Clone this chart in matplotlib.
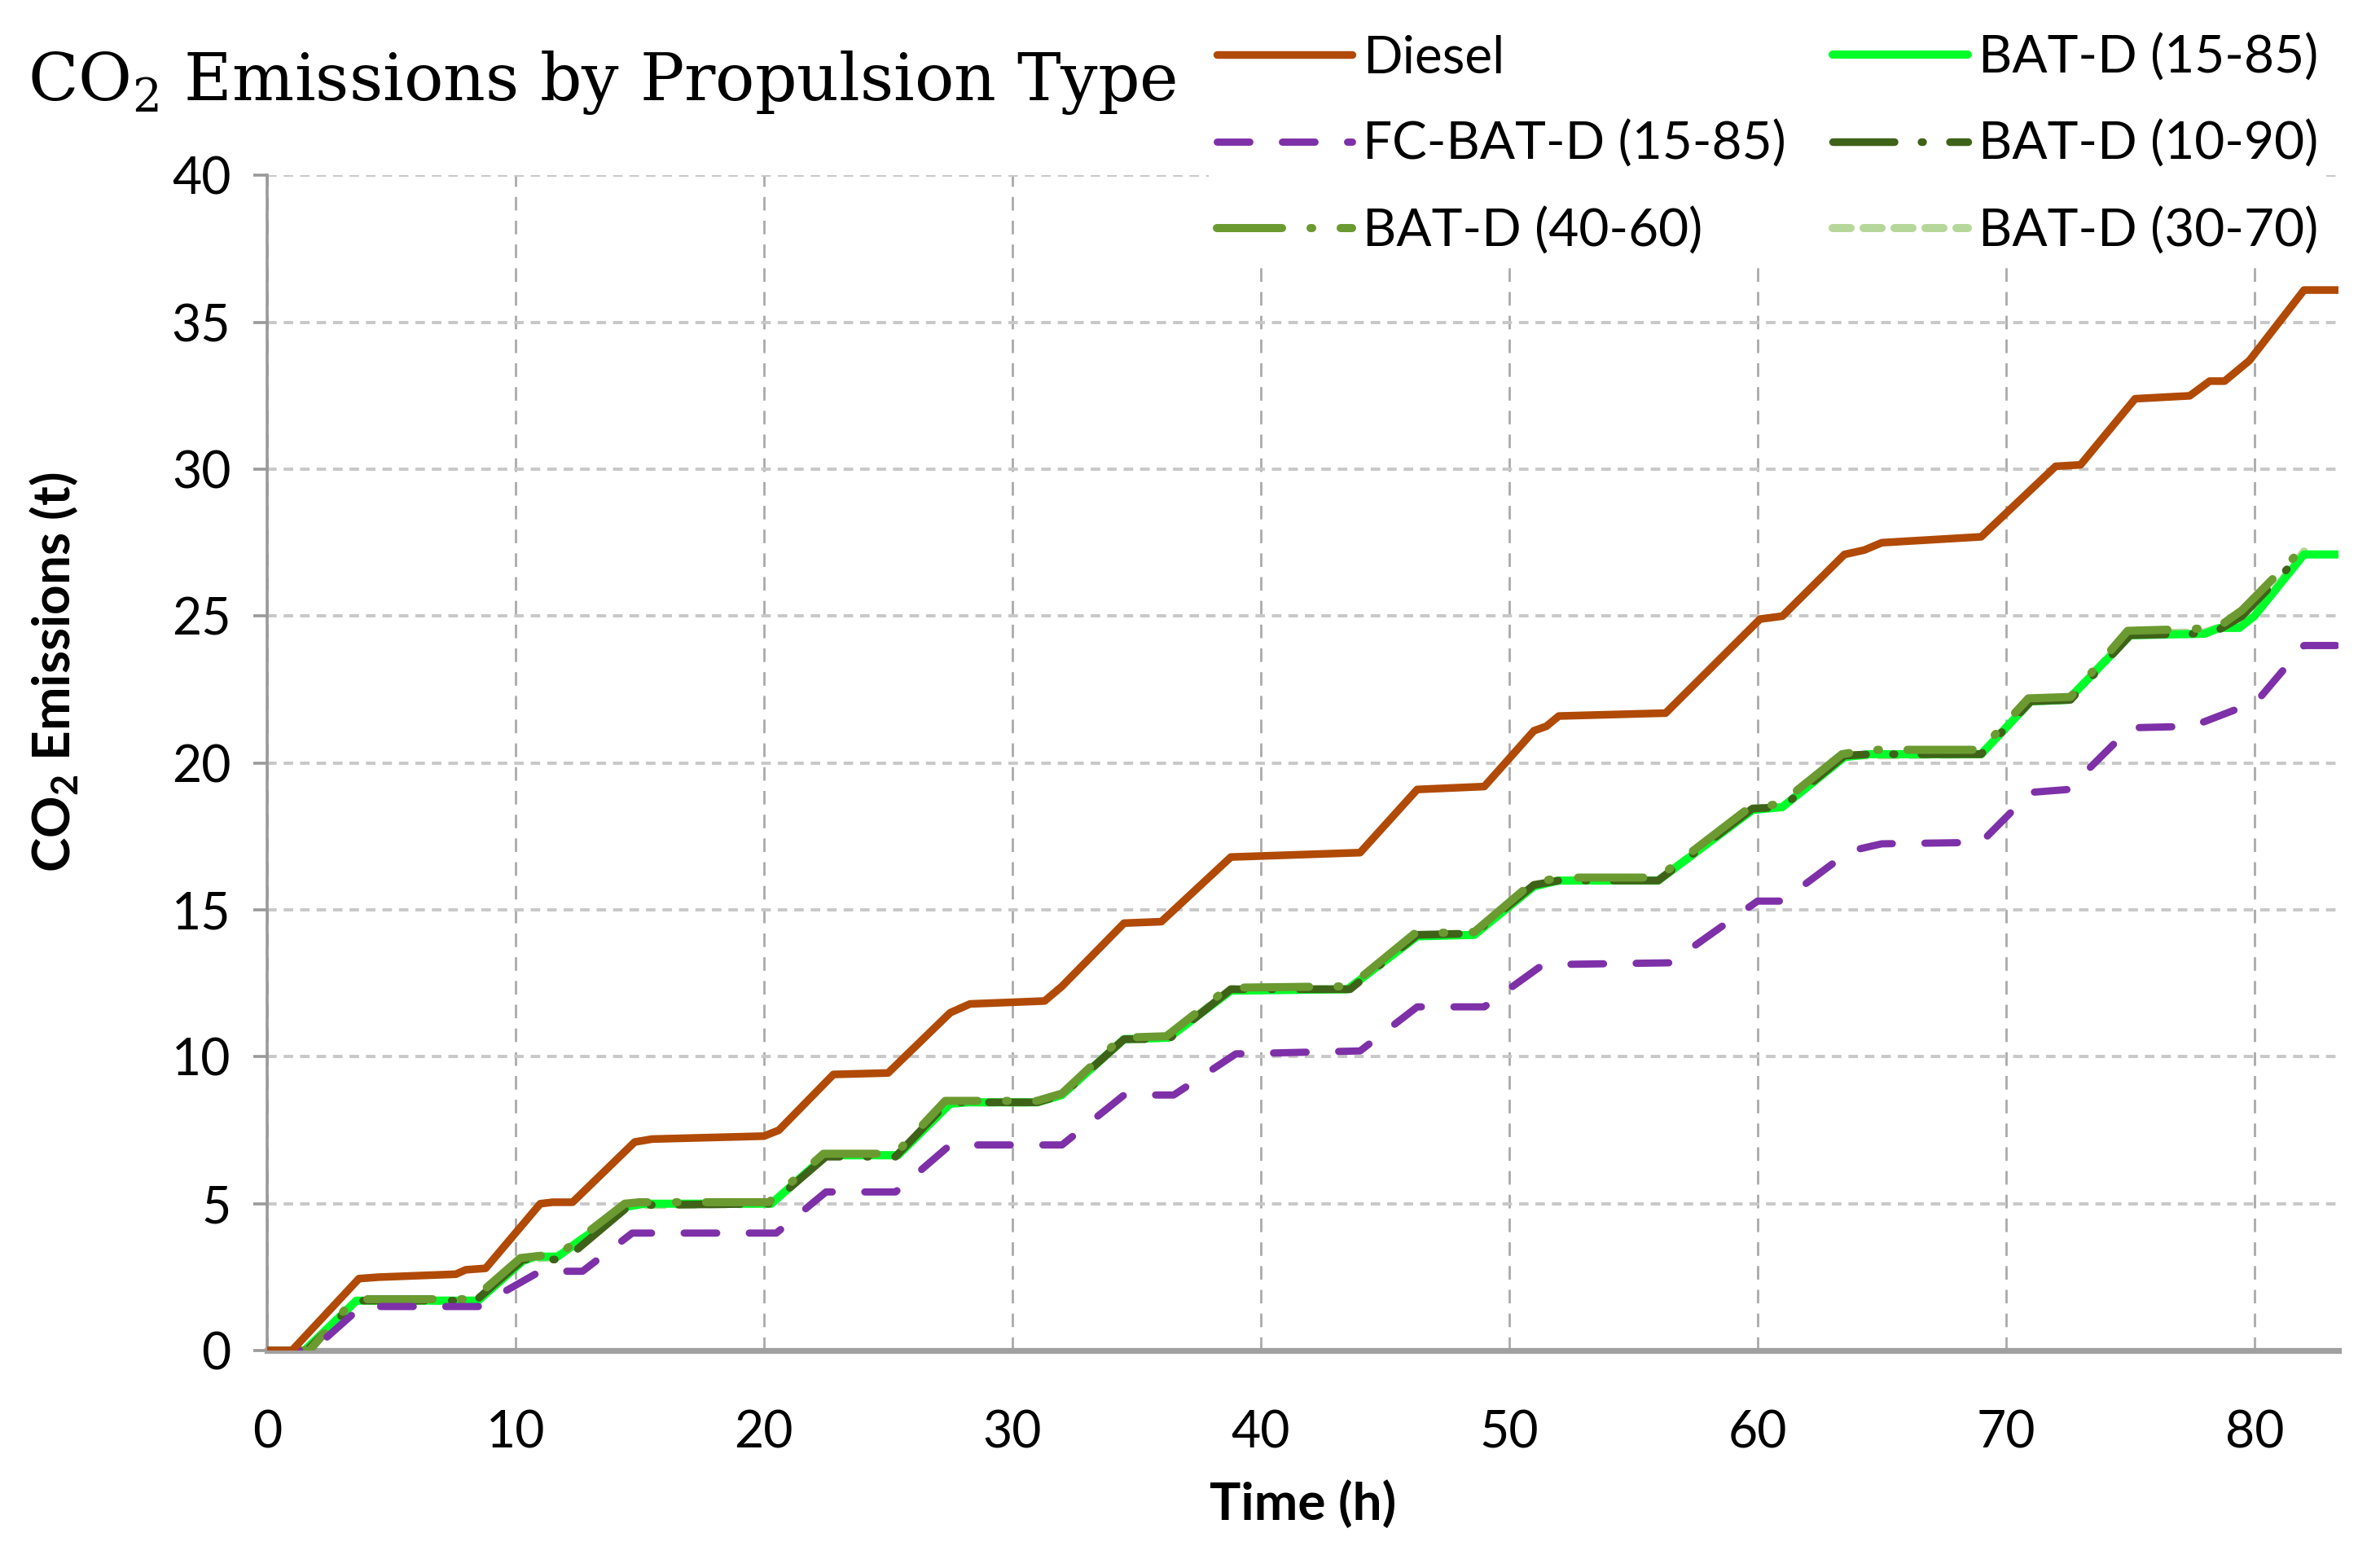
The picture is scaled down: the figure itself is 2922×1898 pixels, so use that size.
import matplotlib
matplotlib.use("Agg")
import matplotlib.pyplot as plt

# data (time in h, cumulative CO2 in t)
t_diesel = [0, 1.0, 3.7, 4.5, 7.6, 8.0, 8.8, 11.0, 11.5, 12.3, 14.8, 15.5, 20.0, 20.6,
            22.8, 25.0, 27.5, 28.3, 31.3, 32.0, 34.5, 36.0, 38.8, 44.0, 46.3, 49.0,
            51.0, 51.5, 52.0, 56.3, 60.1, 61.0, 63.5, 64.3, 65.0, 69.0, 72.0, 73.0,
            75.2, 77.4, 78.2, 78.8, 79.8, 82.0, 83.4]
co2_diesel = [0, 0, 2.45, 2.5, 2.6, 2.75, 2.8, 5.0, 5.05, 5.05, 7.1, 7.2, 7.3, 7.5,
              9.4, 9.45, 11.5, 11.8, 11.9, 12.4, 14.55, 14.6, 16.8, 16.95, 19.1, 19.2,
              21.1, 21.25, 21.6, 21.7, 24.9, 25.0, 27.1, 27.25, 27.5, 27.7, 30.1, 30.15,
              32.4, 32.5, 33.0, 33.0, 33.7, 36.1, 36.1]

t_fc = [0, 1.8, 3.8, 8.5, 11.0, 12.7, 14.7, 20.5, 22.5, 25.3, 27.5, 32.0, 34.5, 36.5,
        39.0, 44.0, 46.3, 49.0, 51.3, 52.5, 56.5, 60.0, 61.0, 63.7, 65.0, 69.0, 71.0,
        72.5, 75.0, 77.5, 79.5, 80.0, 82.0, 83.4]
co2_fc = [0, 0, 1.5, 1.5, 2.7, 2.7, 4.0, 4.0, 5.4, 5.4, 7.0, 7.0, 8.7, 8.7,
          10.1, 10.2, 11.7, 11.7, 13.1, 13.15, 13.2, 15.3, 15.3, 17.0, 17.25, 17.3, 19.0,
          19.1, 21.2, 21.25, 21.9, 22.0, 24.0, 24.0]

t_bat1585 = [0, 1.5, 3.6, 8.5, 10.3, 10.8, 11.7, 14.5, 15.2, 20.3, 22.5, 25.4, 27.5, 28.2,
             31.0, 32.0, 34.5, 36.3, 38.8, 43.5, 46.3, 48.6, 51.0, 52.0, 56.0, 59.8, 61.0,
             63.5, 64.5, 69.0, 71.0, 72.5, 75.0, 78.0, 78.6, 79.4, 80.0, 82.0, 83.4]
co2_bat1585 = [0, 0, 1.7, 1.7, 3.05, 3.2, 3.2, 4.9, 5.0, 5.0, 6.65, 6.65, 8.4, 8.45,
               8.45, 8.7, 10.6, 10.65, 12.25, 12.3, 14.1, 14.15, 15.8, 16.0, 16.0, 18.4, 18.5,
               20.2, 20.3, 20.3, 22.1, 22.15, 24.35, 24.4, 24.6, 24.6, 25.0, 27.1, 27.1]

t_bat1090 = [0, 1.6, 3.6, 8.4, 10.3, 11.5, 12.0, 14.6, 20.3, 22.5, 25.3, 27.4, 31.0, 32.0,
             34.5, 36.3, 38.8, 43.6, 46.3, 48.6, 51.0, 52.0, 56.0, 59.8, 61.0, 63.5, 64.5,
             69.0, 71.0, 72.6, 75.0, 77.5, 78.5, 79.5, 82.0]
co2_bat1090 = [0, 0, 1.7, 1.7, 3.1, 3.1, 3.1, 4.95, 5.0, 6.6, 6.6, 8.45, 8.45, 8.7,
               10.6, 10.6, 12.3, 12.3, 14.15, 14.2, 15.85, 16.0, 16.0, 18.45, 18.5, 20.25, 20.3,
               20.3, 22.1, 22.15, 24.35, 24.4, 24.5, 25.0, 27.2]

t_bat4060 = [0, 1.7, 3.5, 8.3, 10.2, 11.8, 14.4, 15.0, 20.2, 22.4, 25.3, 27.3, 31.0, 32.0,
             34.4, 36.2, 38.7, 43.6, 46.2, 48.6, 50.9, 52.0, 56.0, 59.7, 60.9, 63.4, 64.5,
             69.0, 70.9, 72.6, 74.9, 77.0, 78.5, 79.5, 82.0]
co2_bat4060 = [0, 0, 1.75, 1.75, 3.15, 3.3, 5.0, 5.05, 5.05, 6.7, 6.7, 8.5, 8.5, 8.75,
               10.65, 10.7, 12.35, 12.4, 14.2, 14.25, 15.9, 16.1, 16.1, 18.5, 18.6, 20.3, 20.45,
               20.45, 22.2, 22.25, 24.5, 24.55, 24.6, 25.2, 27.35]

t_bat3070 = [0, 1.6, 3.6, 8.5, 10.3, 11.7, 14.5, 20.3, 22.5, 25.4, 27.5, 31.0, 32.0, 34.5,
             36.3, 38.8, 43.5, 46.3, 48.6, 51.0, 52.0, 56.0, 59.8, 61.0, 63.5, 69.0, 71.0,
             72.5, 75.0, 78.0, 80.0, 82.0]
co2_bat3070 = [0, 0, 1.7, 1.7, 3.1, 3.2, 4.95, 5.0, 6.65, 6.65, 8.45, 8.45, 8.7, 10.6,
               10.65, 12.3, 12.3, 14.15, 14.15, 15.85, 16.0, 16.0, 18.45, 18.5, 20.25, 20.3, 22.1,
               22.15, 24.4, 24.45, 25.0, 27.2]

x_ticks = [0, 10, 20, 30, 40, 50, 60, 70, 80]
y_ticks = [0, 5, 10, 15, 20, 25, 30, 35, 40]

sans = ['Lato', 'DejaVu Sans']
plt.rcParams['font.family'] = sans

fig = plt.figure(figsize=(14.61, 9.49), dpi=200)
ax = fig.add_axes([0.1122, 0.1264, 0.8705, 0.7601])

l_d, = ax.plot(t_diesel, co2_diesel, color='#B04A06', lw=3.4, label='Diesel', zorder=8,
               solid_capstyle='round', solid_joinstyle='round')
l_fc, = ax.plot(t_fc, co2_fc, color='#7E30A8', lw=3.2, label='FC-BAT-D (15-85)', zorder=7,
                dashes=(4.5, 4.5), dash_capstyle='round')
l_37, = ax.plot(t_bat3070, co2_bat3070, color='#B6D79A', lw=3.6, label='BAT-D (30-70)', zorder=3,
                dashes=(2.2, 1.6), dash_capstyle='round')
l_15, = ax.plot(t_bat1585, co2_bat1585, color='#00FF2A', lw=3.6, label='BAT-D (15-85)', zorder=4,
                solid_capstyle='round', solid_joinstyle='round')
l_19, = ax.plot(t_bat1090, co2_bat1090, color='#3F6219', lw=3.4, label='BAT-D (10-90)', zorder=5,
                dashes=(8, 3.5, 0.2, 3.5), dash_capstyle='round')
l_46, = ax.plot(t_bat4060, co2_bat4060, color='#6B9A31', lw=3.6, label='BAT-D (40-60)', zorder=6,
                dashes=(8, 3.5, 0.2, 3.5), dash_capstyle='round')

ax.set_xlim(0, 83.4)
ax.set_ylim(0, 40)
ax.set_xticks(x_ticks)
ax.set_yticks(y_ticks)

# grid
ax.grid(axis='y', color='#C8C8C8', lw=1.4, dashes=(3, 2.2))
ax.grid(axis='x', color='#AAAAAA', lw=1.0, dashes=(6, 4.5))
ax.set_axisbelow(True)

for s in ['top', 'right']:
    ax.spines[s].set_visible(False)
ax.spines['left'].set_color('#9A9A9A')
ax.spines['left'].set_linewidth(1.3)
ax.spines['bottom'].set_color('#A0A0A0')
ax.spines['bottom'].set_linewidth(2.6)

ax.tick_params(axis='y', direction='out', length=6, width=1.3, color='#9A9A9A',
               labelsize=22.5, pad=10)
ax.tick_params(axis='x', length=0, labelsize=22.5, pad=26)

ax.set_xlabel('Time (h)', fontsize=23, fontweight='bold', labelpad=10)
ax.set_ylabel('CO$_\\mathregular{2}$ Emissions (t)', fontsize=23, fontweight='bold')
ax.yaxis.set_label_coords(-0.09, 0.577)

fig.text(0.0115, 0.935, 'CO$_\\mathregular{2}$ Emissions by Propulsion Type',
         family='DejaVu Serif', fontsize=29, ha='left', va='baseline')

handles = [l_d, l_fc, l_46, l_15, l_19, l_37]
leg = fig.legend(handles=handles, labels=[h.get_label() for h in handles],
                 loc='upper left', bbox_to_anchor=(0.497, 1.0), ncol=2,
                 fontsize=23, frameon=True, handlelength=2.6, handletextpad=0.2,
                 columnspacing=0.9, labelspacing=0.74, borderpad=0.15)
leg.get_frame().set_facecolor('white')
leg.get_frame().set_edgecolor('none')
leg.get_frame().set_alpha(1)

fig.savefig('out.png', dpi=200)
